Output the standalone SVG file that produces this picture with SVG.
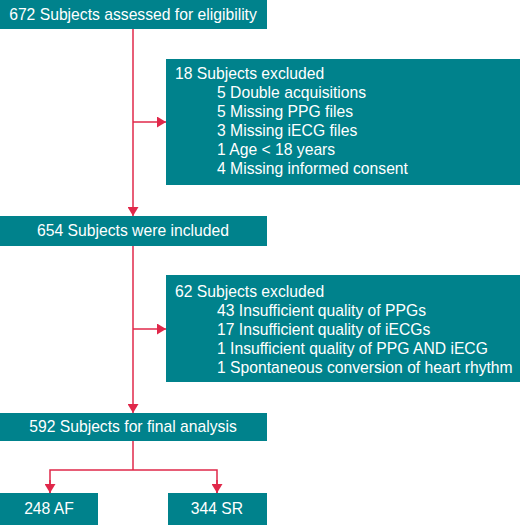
<svg xmlns="http://www.w3.org/2000/svg" width="520" height="525" viewBox="0 0 520 525">
<style>
.box{fill:#00828C}
.t{font-family:"Liberation Sans",Arial,sans-serif;font-size:15.7px;fill:#ffffff}
.c{text-anchor:middle}
.ln{stroke:#E0284A;stroke-width:1.5;fill:none}
</style>
<defs>
<marker id="ah" viewBox="0 0 10 10" refX="10" refY="5" markerWidth="9" markerHeight="11" markerUnits="userSpaceOnUse" orient="auto" preserveAspectRatio="none">
<path d="M0,0 L10,5 L0,10 Z" fill="#E0284A"/>
</marker>
</defs>
<g id="connectors">
<line class="ln" x1="133" y1="29" x2="133" y2="216" marker-end="url(#ah)"/>
<line class="ln" x1="133" y1="122" x2="166" y2="122" marker-end="url(#ah)"/>
<line class="ln" x1="133" y1="246" x2="133" y2="413" marker-end="url(#ah)"/>
<line class="ln" x1="133" y1="329" x2="166" y2="329" marker-end="url(#ah)"/>
<line class="ln" x1="133" y1="441" x2="133" y2="470"/>
<polyline class="ln" points="50,493 50,470 217,470 217,493"/>
<line class="ln" x1="50" y1="480" x2="50" y2="493" marker-end="url(#ah)"/>
<line class="ln" x1="217" y1="480" x2="217" y2="493" marker-end="url(#ah)"/>
</g>
<g id="n1"><rect class="box" x="0" y="0" width="267" height="29"/><text class="t c" x="133" y="20">672 Subjects assessed for eligibility</text></g>
<g id="n2"><rect class="box" x="166" y="59" width="354" height="126"/>
<text class="t" x="175" y="79">18 Subjects excluded</text>
<text class="t" x="217" y="98">5 Double acquisitions</text>
<text class="t" x="217" y="117">5 Missing PPG files</text>
<text class="t" x="217" y="136">3 Missing iECG files</text>
<text class="t" x="217" y="155">1 Age &lt; 18 years</text>
<text class="t" x="217" y="174">4 Missing informed consent</text>
</g>
<g id="n3"><rect class="box" x="0" y="216" width="267" height="30"/><text class="t c" x="133" y="236">654 Subjects were included</text></g>
<g id="n4"><rect class="box" x="166" y="275" width="354" height="107"/>
<text class="t" x="175" y="297">62 Subjects excluded</text>
<text class="t" x="217" y="316">43 Insufficient quality of PPGs</text>
<text class="t" x="217" y="335">17 Insufficient quality of iECGs</text>
<text class="t" x="217" y="354">1 Insufficient quality of PPG AND iECG</text>
<text class="t" x="217" y="373">1 Spontaneous conversion of heart rhythm</text>
</g>
<g id="n5"><rect class="box" x="0" y="413" width="267" height="28"/><text class="t c" x="133" y="432">592 Subjects for final analysis</text></g>
<g id="n6"><rect class="box" x="0" y="493" width="98" height="32"/><text class="t c" x="49" y="514">248 AF</text></g>
<g id="n7"><rect class="box" x="168" y="493" width="99" height="32"/><text class="t c" x="217" y="514">344 SR</text></g>
</svg>
